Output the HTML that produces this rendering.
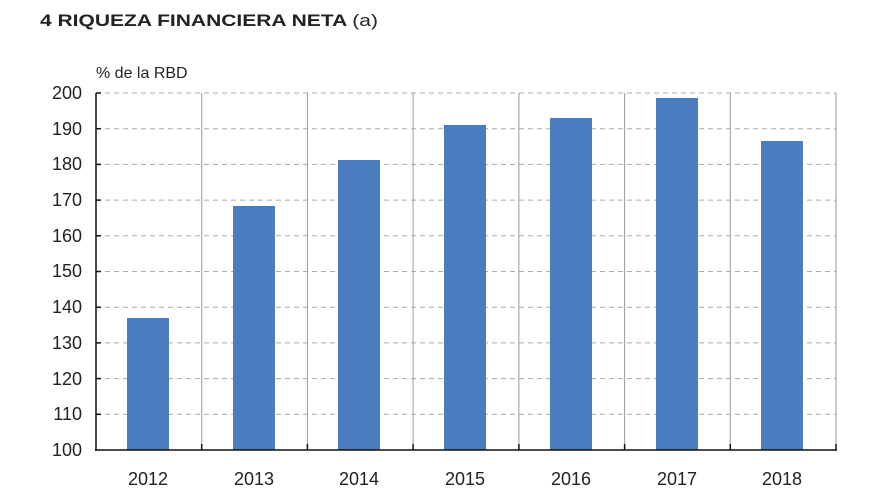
<!DOCTYPE html><html><head><style>body{margin:0;background:#fff}svg{display:block}text{font-family:"Liberation Sans",sans-serif;fill:#222}</style></head><body>
<svg width="880" height="495" viewBox="0 0 880 495">
<text x="40" y="26" font-size="17" font-weight="bold" textLength="338" lengthAdjust="spacingAndGlyphs">4  RIQUEZA FINANCIERA NETA <tspan font-weight="normal">(a)</tspan></text>
<text x="96" y="78" font-size="16">% de la RBD</text>
<g stroke="#aaa" stroke-width="1" stroke-dasharray="5,4">
<line x1="96" x2="836" y1="93" y2="93"/><line x1="96" x2="836" y1="128.7" y2="128.7"/><line x1="96" x2="836" y1="164.4" y2="164.4"/><line x1="96" x2="836" y1="200.1" y2="200.1"/><line x1="96" x2="836" y1="235.8" y2="235.8"/><line x1="96" x2="836" y1="271.5" y2="271.5"/><line x1="96" x2="836" y1="307.2" y2="307.2"/><line x1="96" x2="836" y1="342.9" y2="342.9"/><line x1="96" x2="836" y1="378.6" y2="378.6"/><line x1="96" x2="836" y1="414.3" y2="414.3"/>
</g>
<g stroke="#999" stroke-width="1">
<line x1="201.7" x2="201.7" y1="93" y2="450"/><line x1="307.4" x2="307.4" y1="93" y2="450"/><line x1="413.1" x2="413.1" y1="93" y2="450"/><line x1="518.9" x2="518.9" y1="93" y2="450"/><line x1="624.6" x2="624.6" y1="93" y2="450"/><line x1="730.3" x2="730.3" y1="93" y2="450"/><line x1="836" x2="836" y1="93" y2="450"/>
</g>
<g fill="#4a7dc0">
<rect x="127" y="318" width="42" height="132"/>
<rect x="233" y="206" width="42" height="244"/>
<rect x="338" y="160" width="42" height="290"/>
<rect x="444" y="125" width="42" height="325"/>
<rect x="550" y="118" width="42" height="332"/>
<rect x="656" y="98" width="42" height="352"/>
<rect x="761" y="141" width="42" height="309"/>
</g>
<g stroke="#111" stroke-width="1.5">
<line x1="96" x2="96" y1="93" y2="451"/><line x1="95" x2="837" y1="450" y2="450"/>
<line x1="96" x2="101" y1="93" y2="93"/><line x1="96" x2="101" y1="128.7" y2="128.7"/><line x1="96" x2="101" y1="164.4" y2="164.4"/><line x1="96" x2="101" y1="200.1" y2="200.1"/><line x1="96" x2="101" y1="235.8" y2="235.8"/><line x1="96" x2="101" y1="271.5" y2="271.5"/><line x1="96" x2="101" y1="307.2" y2="307.2"/><line x1="96" x2="101" y1="342.9" y2="342.9"/><line x1="96" x2="101" y1="378.6" y2="378.6"/><line x1="96" x2="101" y1="414.3" y2="414.3"/>
<line x1="201.7" x2="201.7" y1="444" y2="450"/><line x1="307.4" x2="307.4" y1="444" y2="450"/><line x1="413.1" x2="413.1" y1="444" y2="450"/><line x1="518.9" x2="518.9" y1="444" y2="450"/><line x1="624.6" x2="624.6" y1="444" y2="450"/><line x1="730.3" x2="730.3" y1="444" y2="450"/><line x1="836" x2="836" y1="444" y2="450"/>
</g>
<g font-size="18" text-anchor="end">
<text x="82" y="99">200</text><text x="82" y="135">190</text><text x="82" y="170">180</text><text x="82" y="206">170</text><text x="82" y="242">160</text><text x="82" y="277">150</text><text x="82" y="313">140</text><text x="82" y="349">130</text><text x="82" y="385">120</text><text x="82" y="420">110</text><text x="82" y="456">100</text>
</g>
<g font-size="18" text-anchor="middle">
<text x="148" y="485">2012</text><text x="254" y="485">2013</text><text x="359" y="485">2014</text><text x="465" y="485">2015</text><text x="571" y="485">2016</text><text x="677" y="485">2017</text><text x="782" y="485">2018</text>
</g>
</svg></body></html>
